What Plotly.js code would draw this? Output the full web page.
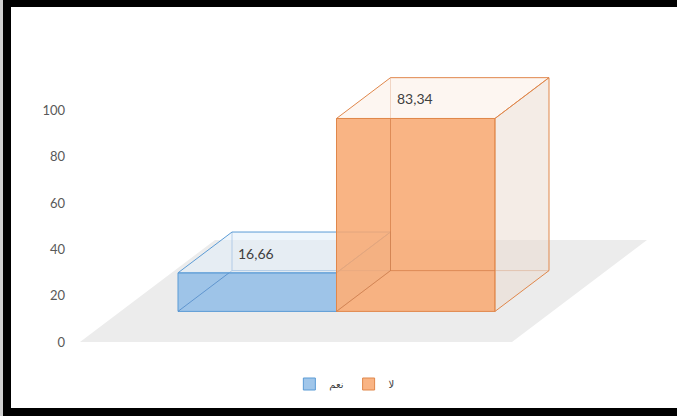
<!DOCTYPE html>
<html>
<head>
<meta charset="utf-8">
<script src="https://cdn.plot.ly/plotly-3.0.1.min.js"></script>
<style>
  html, body { margin: 0; padding: 0; background: #fff; }
  #wrap { position: relative; width: 677px; height: 416px; overflow: hidden; }
  #chart { width: 677px; height: 416px; }
  #frame { position: absolute; left: 0; top: 0; width: 677px; height: 416px; box-sizing: border-box;
           border-top: 7px solid #000; border-bottom: 8px solid #000; border-left: 11px solid #000;
           pointer-events: none; }
  #edge { position: absolute; left: 0; top: 0; width: 3px; height: 416px; background: #cfcfcf; pointer-events: none; }
</style>
</head>
<body>
<div id="wrap">
  <div id="chart"></div>
  <div id="frame"></div>
  <div id="edge"></div>
</div>
<script>
// ---- data ----
const categories = ['نعم', 'لا'];
const values = [16.66, 83.34];
const yTicks = [0, 20, 40, 60, 80, 100];

// ---- styles (one entry per category) ----
const frontFill = ['rgba(150,192,232,0.9)', 'rgba(248,168,112,0.86)'];
const topFill = ['rgba(225,238,250,0.55)', 'rgba(252,240,232,0.6)'];
const sideFill = ['rgba(200,220,240,0.4)', 'rgba(235,220,210,0.55)'];
const edgeColor = ['#5b9bd5', '#e0874b'];
const hiddenEdge = ['rgba(70,130,195,0.7)', 'rgba(200,105,50,0.55)'];

// ---- geometry of the pseudo-3D projection ----
const W = 677, H = 416;
const M = { l: 70, r: 17, t: 20, b: 56 };
const plotL = M.l, plotR = W - M.r, plotT = M.t, plotB = H - M.b;
const pxPerY = 2.315;        // pixels per value unit
const pxPerX = 158.5;        // pixels per category slot
const zeroPx = 342;          // pixel row of value 0 on the front floor edge
const firstEdgePx = 137.5;   // pixel column of x = -0.5 on the front plane
const depthPx = [135, 102];  // full floor depth, as a screen offset
const DX = depthPx[0] / pxPerX, DY = depthPx[1] / pxPerY;
const d0 = 0.3, d1 = 0.7;    // bars sit between these depth fractions
const floorPad = 57.5 / pxPerX;

const yRange = [-(plotB - zeroPx) / pxPerY, (zeroPx - plotT) / pxPerY];
const xRange = [-0.5 - (firstEdgePx - plotL) / pxPerX, -0.5 + (plotR - firstEdgePx) / pxPerX];

const traces = [];
const annotations = [];

categories.forEach((name, i) => {
  const ya = i === 0 ? 'y' : 'y2';
  const v = values[i];
  const a = i - 0.5, b = i + 0.5;
  const fx = d0 * DX, fy = d0 * DY, bx = d1 * DX, by = d1 * DY;
  const common = { type: 'scatter', mode: 'lines', xaxis: 'x', yaxis: ya, showlegend: false, hoverinfo: 'skip' };

  // front face of the box
  traces.push({
    type: 'bar', name: name, x: [i + fx], y: [v], base: [fy], width: [1],
    xaxis: 'x', yaxis: ya, hoverinfo: 'skip', showlegend: true,
    marker: { color: frontFill[i], line: { color: edgeColor[i], width: 1 } }
  });
  // edges hidden behind the front face
  traces.push(Object.assign({}, common, {
    x: [a + bx, a + bx, null, a + bx, b + bx, null, a + fx, a + bx],
    y: [by, by + v, null, by, by, null, fy, by],
    line: { color: hiddenEdge[i], width: 1 }
  }));
  // top face
  traces.push(Object.assign({}, common, {
    x: [a + fx, b + fx, b + bx, a + bx, a + fx],
    y: [fy + v, fy + v, by + v, by + v, fy + v],
    fill: 'toself', fillcolor: topFill[i],
    line: { color: edgeColor[i], width: 1 }
  }));
  // right side face
  traces.push(Object.assign({}, common, {
    x: [b + fx, b + bx, b + bx, b + fx, b + fx],
    y: [fy, by, by + v, fy + v, fy],
    fill: 'toself', fillcolor: sideFill[i],
    line: { color: edgeColor[i], width: 1 }
  }));
  // value label on the top face
  annotations.push({
    x: a + bx, y: by + v, xref: 'x', yref: ya,
    text: v.toFixed(2).replace('.', ','), showarrow: false,
    xanchor: 'left', yanchor: 'middle', xshift: 4, yshift: -21,
    font: { size: 14, color: '#404040' }
  });
});

// floor under the boxes
const fa = -0.5 - floorPad, fb = categories.length - 0.5 + floorPad;
const floor = {
  type: 'path', xref: 'x', yref: 'y', layer: 'below',
  path: `M ${fa},0 L ${fb},0 L ${fb + DX},${DY} L ${fa + DX},${DY} Z`,
  fillcolor: '#ececec', line: { width: 0 }
};

const layout = {
  width: W, height: H,
  margin: { l: M.l, r: M.r, t: M.t, b: M.b, pad: 0 },
  paper_bgcolor: '#ffffff', plot_bgcolor: 'rgba(0,0,0,0)',
  font: { family: "Lato, 'DejaVu Sans', sans-serif", color: '#595959' },
  xaxis: { range: xRange, visible: false, fixedrange: true },
  yaxis: {
    range: yRange, tickvals: yTicks, ticktext: yTicks.map(String),
    showgrid: false, zeroline: false, showline: false, ticks: '',
    ticklabelstandoff: 4, tickfont: { size: 13, color: '#595959' }, fixedrange: true
  },
  yaxis2: { range: yRange, overlaying: 'y', visible: false, fixedrange: true },
  showlegend: true,
  legend: {
    orientation: 'h', x: 0.465, xanchor: 'center', y: -0.0706, yanchor: 'middle',
    font: { size: 10, color: '#404040' }, bgcolor: 'rgba(0,0,0,0)'
  },
  shapes: [floor],
  annotations: annotations
};

Plotly.newPlot('chart', traces, layout, { displayModeBar: false, staticPlot: true });
</script>
</body>
</html>
